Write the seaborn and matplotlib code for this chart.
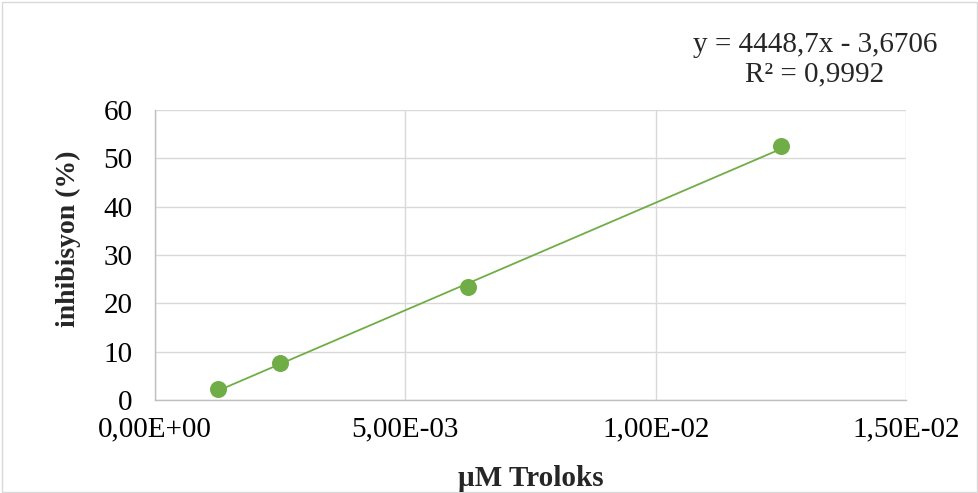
import matplotlib
matplotlib.use("Agg")
import matplotlib.pyplot as plt
import seaborn as sns
import numpy as np
import pandas as pd
from matplotlib.patches import Rectangle

# Data
concentration = [0.00125, 0.0025, 0.00625, 0.0125]
inhibition = [2.3, 7.6, 23.3, 52.5]
slope = 4448.7
intercept = -3.6706
equation_text = "y = 4448,7x - 3,6706\nR² = 0,9992"
x_ticks = [0.0, 0.005, 0.01, 0.015]
x_tick_labels = ["0,00E+00", "5,00E-03", "1,00E-02", "1,50E-02"]
y_ticks = [0, 10, 20, 30, 40, 50, 60]

sns.set_theme(style="whitegrid")
plt.rcParams['font.family'] = ['Liberation Serif', 'DejaVu Serif']

fig = plt.figure(figsize=(9.79, 4.93), dpi=100)
ax = fig.add_axes([155/979, 1-400/493, (906-155)/979, (400-110)/493])

df = pd.DataFrame({"x": concentration, "y": inhibition})
green = "#70AD47"

xs = np.array([min(concentration), max(concentration)])
trend = pd.DataFrame({"x": xs, "y": slope*xs + intercept})
sns.lineplot(data=trend, x="x", y="y", ax=ax, color=green, linewidth=1.3, zorder=2)
sns.scatterplot(data=df, x="x", y="y", ax=ax, color=green, s=150, edgecolor=green,
                linewidth=0, zorder=3)

ax.set_xlim(0, 0.015)
ax.set_ylim(0, 60)
ax.set_xticks(x_ticks)
ax.set_xticklabels(x_tick_labels)
ax.set_yticks(y_ticks)
ax.grid(True, color="#D9D9D9", linewidth=1.0)
ax.set_facecolor("white")
for side in ["top", "right"]:
    ax.spines[side].set_visible(False)
for side in ["left", "bottom"]:
    ax.spines[side].set_visible(True)
    ax.spines[side].set_color("#BFBFBF")
    ax.spines[side].set_linewidth(1.0)
ax.tick_params(axis="both", labelsize=21, colors="black", length=0)
ax.tick_params(axis="y", pad=16)
ax.tick_params(axis="x", pad=12)
ax.set_xlabel("")
ax.set_ylabel("")

fig.text(531/979, 1-478/493, "µM Troloks", ha="center", va="center",
         fontsize=21, fontweight="bold")
fig.text(68/979, 1-239/493, "inhibisyon (%)", ha="center", va="center",
         rotation=90, fontsize=20, fontweight="bold")
fig.text(815/979, 1-60/493, equation_text, ha="center", va="center",
         fontsize=21, linespacing=1.15)

fig.patches.append(Rectangle((0.002, 0.002), 0.996, 0.994, transform=fig.transFigure,
                             fill=False, edgecolor="#D9D9D9", linewidth=1.0))

fig.savefig("out.png", dpi=100, facecolor="white")
